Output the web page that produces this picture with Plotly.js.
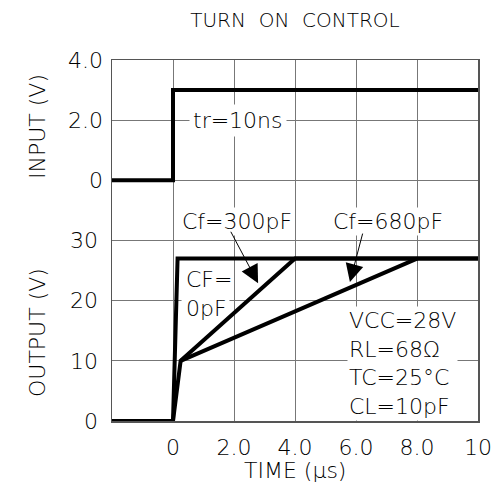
<!DOCTYPE html>
<html>
<head>
<meta charset="utf-8">
<script src="https://cdn.plot.ly/plotly-3.0.1.min.js"></script>
<style>html,body{margin:0;padding:0;background:#fff;}#chart{width:502px;height:502px;}</style>
</head>
<body>
<div id="chart"></div>
<script>
// ---- data ----
var timeInput = [-2, 0, 0, 10];
var inputV = [0, 0, 3, 3];

var timeCf0 = [-2, 0, 0.15, 10];
var outCf0 = [0, 0, 27, 27];

var timeCf300 = [0, 0.25, 4, 10];
var outCf300 = [0, 10, 27, 27];

var timeCf680 = [0.25, 8];
var outCf680 = [10, 27];

var xTickVals = [0, 2, 4, 6, 8, 10];
var xTickText = ['0', '2.0', '4.0', '6.0', '8.0', '10'];
var outTickVals = [0, 10, 20, 30, 40, 50, 60];
var outTickText = ['0', '10', '20', '30', '', '', ''];
var inTickVals = [0, 2, 4];
var inTickText = ['0', '2.0', '4.0'];

var FONT = 'DejaVu Sans, Liberation Sans, sans-serif';
var lineStyle = {color: '#000', width: 4};

var traces = [
  {x: timeInput, y: inputV, yaxis: 'y2', mode: 'lines', line: lineStyle, hoverinfo: 'skip'},
  {x: timeCf0, y: outCf0, mode: 'lines', line: lineStyle, hoverinfo: 'skip'},
  {x: timeCf300, y: outCf300, mode: 'lines', line: lineStyle, hoverinfo: 'skip'},
  {x: timeCf680, y: outCf680, mode: 'lines', line: lineStyle, hoverinfo: 'skip'}
];

var txtFont = {family: FONT, size: 22, color: '#000', weight: 300};

var layout = {
  width: 502, height: 502,
  margin: {l: 112, r: 24, t: 60, b: 81},
  paper_bgcolor: '#fff', plot_bgcolor: '#fff',
  showlegend: false,
  font: {family: FONT, size: 22, color: '#000', weight: 300},
  title: {text: 'TURN\u00A0\u00A0ON\u00A0\u00A0CONTROL', font: {family: FONT, size: 20, color: '#000', weight: 300},
          x: 0.5, xref: 'paper', xanchor: 'center', y: 1 - 20/502, yref: 'container', yanchor: 'middle'},
  xaxis: {
    range: [-2, 10], tickvals: xTickVals, ticktext: xTickText,
    showgrid: true, gridcolor: '#777', gridwidth: 1,
    showline: true, mirror: true, linecolor: '#555', linewidth: 1.5,
    zeroline: false, ticks: '', ticklabelstandoff: 6,
    fixedrange: true
  },
  yaxis: {
    range: [0, 60], tickvals: outTickVals, ticktext: outTickText,
    showgrid: true, gridcolor: '#777', gridwidth: 1,
    showline: true, mirror: true, linecolor: '#555', linewidth: 1.5,
    zeroline: false, ticks: '', ticklabelstandoff: 8, fixedrange: true
  },
  yaxis2: {
    overlaying: 'y', side: 'left', range: [-8, 4],
    tickvals: inTickVals, ticktext: inTickText,
    showgrid: false, zeroline: false, showline: false, ticks: '', ticklabelstandoff: 8, fixedrange: true
  },
  shapes: [
    // white mask behind the "CF= 0pF" label (between gridlines and traces)
    {type: 'rect', layer: 'between', xref: 'x', yref: 'y', x0: 0.28, x1: 1.85, y0: 16.4, y1: 25.6,
     fillcolor: '#fff', line: {width: 0}}
  ],
  annotations: [
    {xref: 'paper', yref: 'paper', x: 0.5, y: (421 - 470) / 361, text: 'TIME (\u03bcs)',
     showarrow: false, xanchor: 'center', yanchor: 'middle', font: txtFont},
    {xref: 'paper', yref: 'paper', x: (37 - 112) / 366, y: (421 - 127) / 361, text: 'INPUT (V)', textangle: -90,
     showarrow: false, xanchor: 'center', yanchor: 'middle', font: txtFont},
    {xref: 'paper', yref: 'paper', x: (37 - 112) / 366, y: (421 - 333) / 361, text: 'OUTPUT (V)', textangle: -90,
     showarrow: false, xanchor: 'center', yanchor: 'middle', font: txtFont},
    {xref: 'x', yref: 'y2', x: 2.13, y: 2.0, text: 'tr=10ns', showarrow: false, bgcolor: '#fff',
     borderpad: 3, font: txtFont},
    {xref: 'x', yref: 'y', x: 2.1, y: 33.1, text: 'Cf=300pF', showarrow: false, bgcolor: '#fff', font: txtFont},
    {xref: 'x', yref: 'y', x: 7.05, y: 33.1, text: 'Cf=680pF', showarrow: false, bgcolor: '#fff', font: txtFont},
    {xref: 'x', yref: 'y', x: 0.36, y: 21.1, text: 'CF=<br>0pF', showarrow: false,
     xanchor: 'left', align: 'left', font: txtFont},
    {xref: 'x', yref: 'y', x: 5.72, y: 9.6, text: 'VCC=28V<br>RL=68\u03a9<br>TC=25\u00b0C<br>CL=10pF', showarrow: false,
     bgcolor: '#fff', xanchor: 'left', align: 'left', font: txtFont},
    {xref: 'x', yref: 'y', axref: 'x', ayref: 'y', x: 2.79, y: 22.9, ax: 1.87, ay: 31.7, text: '',
     showarrow: true, arrowhead: 2, arrowsize: 3.6, arrowwidth: 1, arrowcolor: '#000', standoff: 0},
    {xref: 'x', yref: 'y', axref: 'x', ayref: 'y', x: 5.80, y: 23.1, ax: 6.23, ay: 31.4, text: '',
     showarrow: true, arrowhead: 2, arrowsize: 3.6, arrowwidth: 1, arrowcolor: '#000', standoff: 0}
  ]
};

Plotly.newPlot('chart', traces, layout, {staticPlot: true, displayModeBar: false});
</script>
</body>
</html>
